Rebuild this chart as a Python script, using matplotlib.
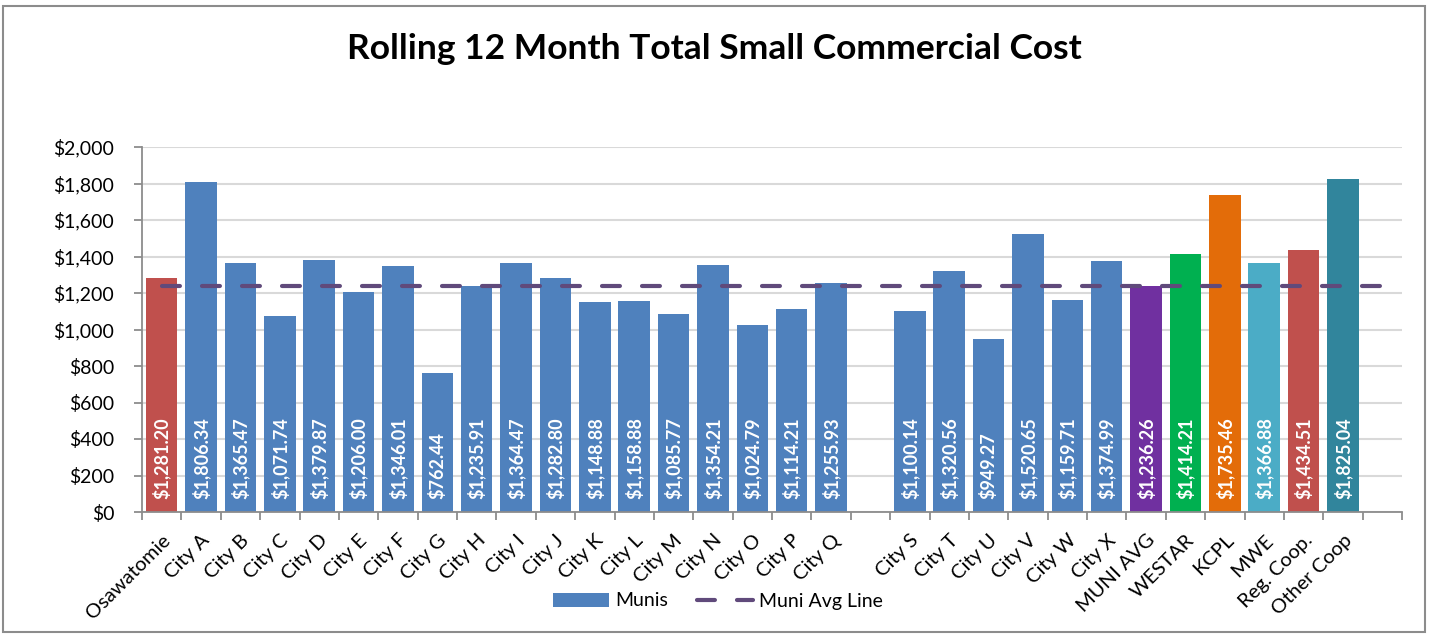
import matplotlib
matplotlib.use("Agg")
import matplotlib.pyplot as plt
import numpy as np
from matplotlib.patches import Patch, Rectangle
from matplotlib.lines import Line2D
from matplotlib.ticker import FuncFormatter, MultipleLocator

plt.rcParams['font.family'] = ['Lato', 'DejaVu Sans']

categories = ["Osawatomie", "City A", "City B", "City C", "City D", "City E", "City F",
              "City G", "City H", "City I", "City J", "City K", "City L", "City M",
              "City N", "City O", "City P", "City Q", "", "City S", "City T", "City U",
              "City V", "City W", "City X", "MUNI AVG", "WESTAR", "KCPL", "MWE",
              "Reg. Coop.", "Other Coop", ""]
values = [1281.20, 1806.34, 1365.47, 1071.74, 1379.87, 1206.00, 1346.01,
          762.44, 1235.91, 1364.47, 1282.80, 1148.88, 1158.88, 1085.77,
          1354.21, 1024.79, 1114.21, 1255.93, np.nan, 1100.14, 1320.56, 949.27,
          1520.65, 1159.71, 1374.99, 1236.26, 1414.21, 1735.46, 1366.88,
          1434.51, 1825.04, np.nan]
muni_avg = 1236.26
avg_line = [muni_avg] * len(categories)

BLUE = "#4F81BD"
special_colors = {"Osawatomie": "#C0504D", "MUNI AVG": "#7030A0", "WESTAR": "#00B050",
                  "KCPL": "#E36C09", "MWE": "#4BACC6", "Reg. Coop.": "#C0504D",
                  "Other Coop": "#31859C"}
colors = [special_colors.get(c, BLUE) for c in categories]

fig = plt.figure(figsize=(14.34, 6.35), dpi=100)
ax = fig.add_axes([142/1434, 1-512/635, (1402-142)/1434, (512-147)/635])

x = np.arange(len(categories))
vals = np.array(values, dtype=float)
bars = ax.bar(x, np.nan_to_num(vals), width=0.8, color=colors, zorder=2)

for xi, v in zip(x, vals):
    if np.isnan(v):
        continue
    ax.text(xi, 70, f"${v:,.2f}", rotation=90, ha='center', va='bottom',
            color='white', fontsize=13, fontweight='bold', zorder=4)

ax.plot(x, avg_line, color="#604A7B", lw=3, dashes=(4.3, 5.3),
        dash_capstyle='round', zorder=5)

ax.set_xlim(-0.5, len(categories) - 0.5)
ax.set_ylim(0, 2000)
ax.yaxis.set_major_locator(MultipleLocator(200))
ax.yaxis.set_major_formatter(FuncFormatter(lambda v, p: f"${v:,.0f}"))
ax.grid(axis='y', color='#D9D9D9', lw=1.5, zorder=0)
ax.set_axisbelow(True)

ax.set_xticks(x)
ax.set_xticklabels(categories, rotation=45, ha='right', rotation_mode='anchor', fontsize=14.5)
ax.set_xticks(np.arange(-0.5, len(categories)), minor=True)
ax.tick_params(axis='x', which='major', length=0, pad=14)
ax.tick_params(axis='x', which='minor', length=6, color='#8C8C8C', width=1.3)
ax.tick_params(axis='y', length=6, color='#8C8C8C', width=1.3, labelsize=14, pad=14)

for s in ['top', 'right']:
    ax.spines[s].set_visible(False)
for s in ['left', 'bottom']:
    ax.spines[s].set_color('#8C8C8C')
    ax.spines[s].set_linewidth(1.3)

fig.text(714/1434, 1-59/635, "Rolling 12 Month Total Small Commercial Cost",
         ha='center', va='baseline', fontsize=25.5, fontweight='bold')

handles = [Patch(facecolor=BLUE, label="Munis"),
           Line2D([0], [0], color="#604A7B", lw=3, dashes=(4.3, 5.3),
                  dash_capstyle='round', label="Muni Avg Line")]
fig.legend(handles=handles, loc='center', bbox_to_anchor=(718/1434, 1-601/635),
           ncol=2, frameon=False, fontsize=14, handlelength=2.9, columnspacing=1.5,
           handletextpad=0.3)

fig.patches.append(Rectangle((3/1434, 3/635), 1422/1434, 626/635, transform=fig.transFigure,
                             fill=False, edgecolor='#8C8C8C', lw=1.5))

fig.savefig("out.png", dpi=100)
